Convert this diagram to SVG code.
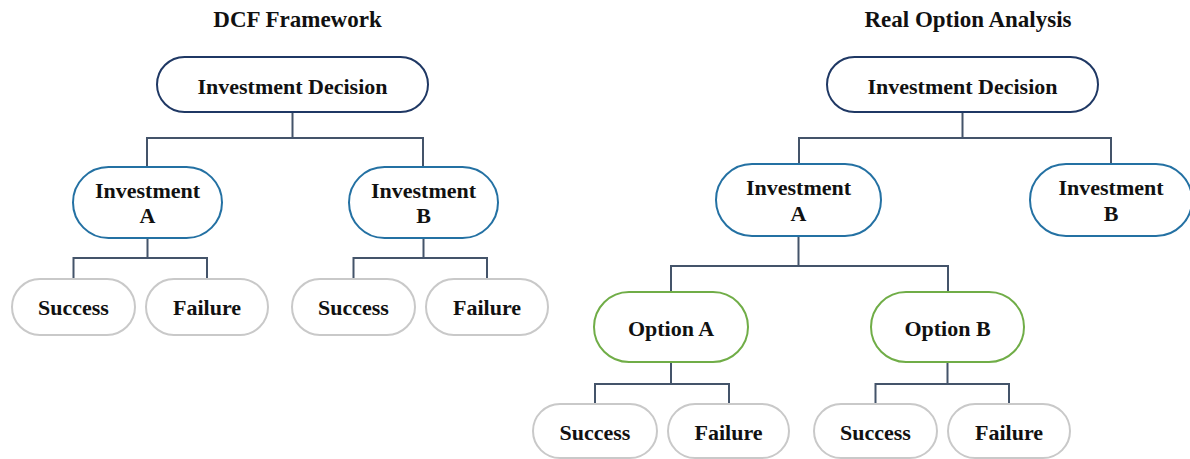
<svg xmlns="http://www.w3.org/2000/svg" width="1190" height="459" viewBox="0 0 1190 459">
<style>
text{font-family:"Liberation Serif","Times New Roman",serif;font-weight:bold;fill:#111;text-anchor:middle}
.t{font-size:23px}
.n{font-size:22px}
rect{fill:#fff;stroke-width:2}
.top{stroke:#1F3864}
.inv{stroke:#2471A3}
.opt{stroke:#70AD47}
.leaf{stroke:#C9C9C9}
.c{fill:none;stroke:#44546A;stroke-width:2}
</style>
<rect width="1190" height="459" fill="#fff" stroke="none"/>
<text class="t" x="297.5" y="27">DCF Framework</text>
<text class="t" x="968" y="27">Real Option Analysis</text>
<g id="connectors">
<path class="c" d="M292.5 112V138M147 167V138H423V167"/>
<path class="c" d="M147.5 238V258M73.5 279V258H207V279"/>
<path class="c" d="M423.5 238V258M353.5 279V258H487V279"/>
<path class="c" d="M962.5 112V138M799 164V138H1111V164"/>
<path class="c" d="M798.5 236V266M671 292V266H948V292"/>
<path class="c" d="M671 362V384M595 404V384H729V404"/>
<path class="c" d="M947.5 362V384M875.5 404V384H1009V404"/>
</g>
<g id="dcf-decision"><rect class="top" x="157" y="57" width="271" height="55" rx="27.5"/><text class="n" x="292.5" y="94">Investment Decision</text></g>
<g id="dcf-invA"><rect class="inv" x="73" y="167" width="149" height="71" rx="35.5"/><text class="n" x="147.5" y="198">Investment</text><text class="n" x="147.5" y="223">A</text></g>
<g id="dcf-invB"><rect class="inv" x="349" y="167" width="149" height="71" rx="35.5"/><text class="n" x="423.5" y="198">Investment</text><text class="n" x="423.5" y="223">B</text></g>
<g id="dcf-A-success"><rect class="leaf" x="12" y="279" width="123" height="56" rx="28"/><text class="n" x="73.5" y="315">Success</text></g>
<g id="dcf-A-failure"><rect class="leaf" x="146" y="279" width="122" height="56" rx="28"/><text class="n" x="207" y="315">Failure</text></g>
<g id="dcf-B-success"><rect class="leaf" x="292" y="279" width="123" height="56" rx="28"/><text class="n" x="353.5" y="315">Success</text></g>
<g id="dcf-B-failure"><rect class="leaf" x="426" y="279" width="122" height="56" rx="28"/><text class="n" x="487" y="315">Failure</text></g>
<g id="roa-decision"><rect class="top" x="827" y="57" width="271" height="55" rx="27.5"/><text class="n" x="962.5" y="94">Investment Decision</text></g>
<g id="roa-invA"><rect class="inv" x="716" y="164" width="165" height="72" rx="36"/><text class="n" x="798.5" y="195">Investment</text><text class="n" x="798.5" y="221">A</text></g>
<g id="roa-invB"><rect class="inv" x="1030" y="164" width="162" height="72" rx="36"/><text class="n" x="1111" y="195">Investment</text><text class="n" x="1111" y="221">B</text></g>
<g id="roa-optA"><rect class="opt" x="594" y="292" width="154" height="70" rx="35"/><text class="n" x="671" y="336">Option A</text></g>
<g id="roa-optB"><rect class="opt" x="871" y="292" width="153" height="70" rx="35"/><text class="n" x="947.5" y="336">Option B</text></g>
<g id="roa-A-success"><rect class="leaf" x="533" y="404" width="124" height="54" rx="27"/><text class="n" x="595" y="440">Success</text></g>
<g id="roa-A-failure"><rect class="leaf" x="668" y="404" width="121" height="54" rx="27"/><text class="n" x="728.5" y="440">Failure</text></g>
<g id="roa-B-success"><rect class="leaf" x="814" y="404" width="123" height="54" rx="27"/><text class="n" x="875.5" y="440">Success</text></g>
<g id="roa-B-failure"><rect class="leaf" x="948" y="404" width="122" height="54" rx="27"/><text class="n" x="1009" y="440">Failure</text></g>
</svg>
